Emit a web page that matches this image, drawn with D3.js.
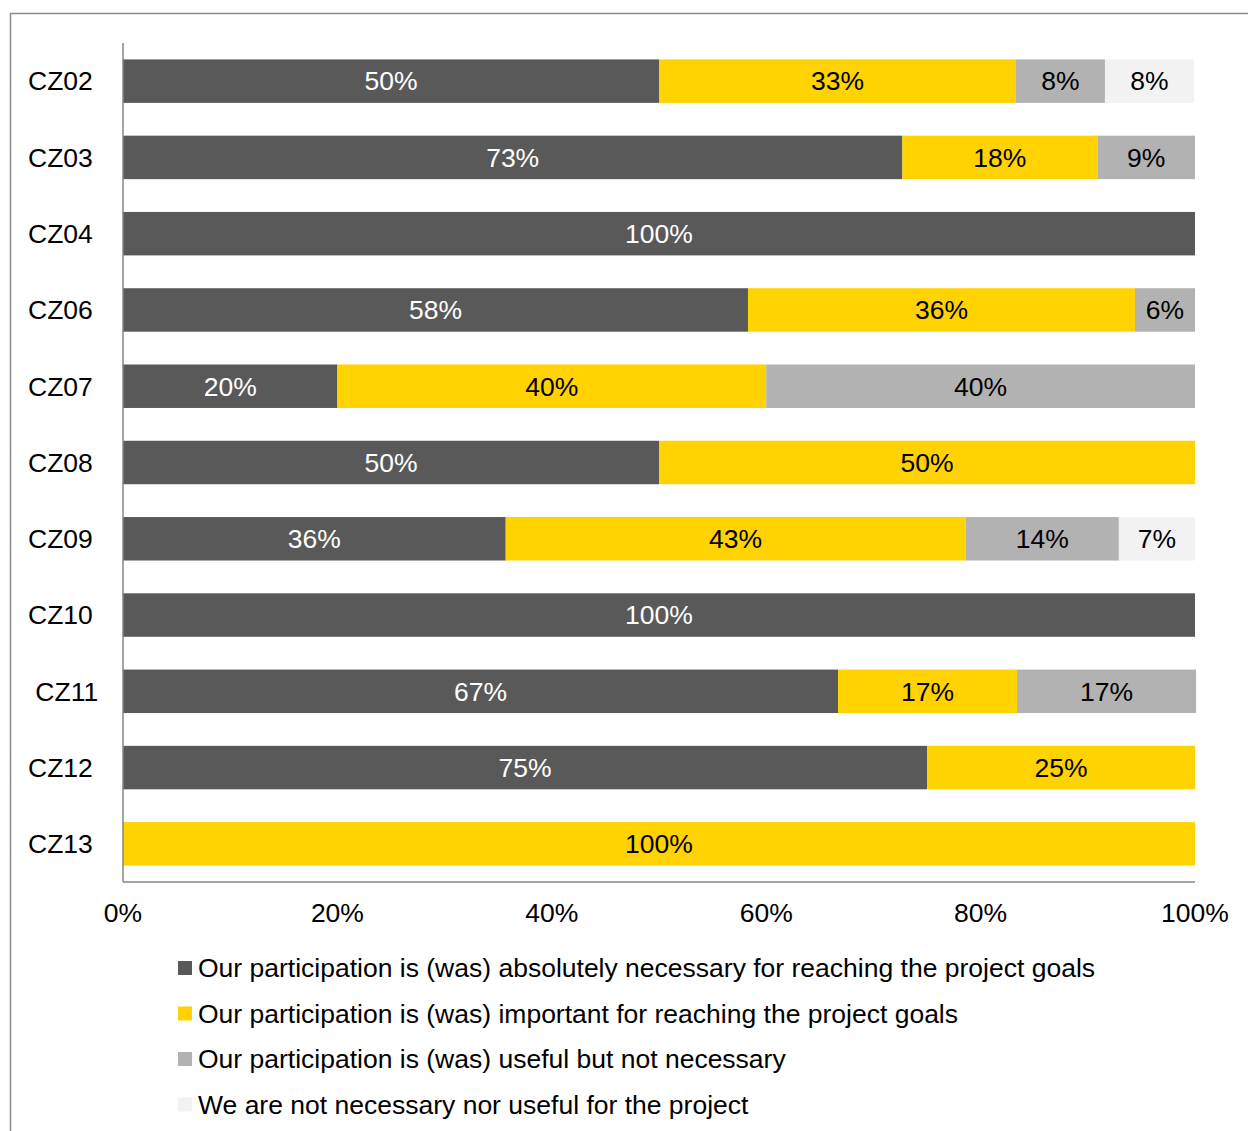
<!DOCTYPE html>
<html>
<head>
<meta charset="utf-8">
<script src="https://cdn.jsdelivr.net/npm/d3@7/dist/d3.min.js"></script>
<style>
  html, body { margin: 0; padding: 0; background: #fff; }
  svg { display: block; font-family: "Liberation Sans", Arial, sans-serif; }
</style>
</head>
<body>
<svg id="chart" width="1248" height="1131"></svg>
<script>
// Regions (category axis, top to bottom)
const categories = ["CZ02", "CZ03", "CZ04", "CZ06", "CZ07", "CZ08", "CZ09", "CZ10", " CZ11", "CZ12", "CZ13"];

// Share of answers per region, in percent
const absolutelyNecessary = [50.0, 72.7, 100, 58.3, 20, 50, 35.7, 100, 66.7, 75, 0];
const important           = [33.3, 18.2, 0,   36.1, 40, 50, 42.9, 0,   16.7, 25, 100];
const usefulNotNecessary  = [8.3,  9.1,  0,   5.6,  40, 0,  14.3, 0,   16.7, 0,  0];
const notNecessaryNorUseful = [8.3, 0,   0,   0,    0,  0,  7.1,  0,   0,    0,  0];

const seriesNames = [
  "Our participation is (was) absolutely necessary for reaching the project goals",
  "Our participation is (was) important for reaching the project goals",
  "Our participation is (was) useful but not necessary",
  "We are not necessary nor useful for the project"
];
const seriesColors = ["#595959", "#FFD200", "#B2B2B2", "#F2F2F2"];
const labelColors  = ["#ffffff", "#000000", "#000000", "#000000"];

const xTicks = [0, 20, 40, 60, 80, 100];

const seriesValues = [absolutelyNecessary, important, usefulNotNecessary, notNecessaryNorUseful];
const rows = categories.map((c, i) => {
  const r = { cat: c };
  seriesValues.forEach((vals, k) => { r["s" + k] = vals[i]; });
  return r;
});
const keys = seriesValues.map((_, k) => "s" + k);
const stacked = d3.stack().keys(keys)(rows);

const svg = d3.select("#chart");
const fontSize = 26.5;

// outer frame
svg.append("rect")
  .attr("x", 10.5).attr("y", 13.5)
  .attr("width", 1260).attr("height", 1140)
  .attr("fill", "none").attr("stroke", "#8a8a8a").attr("stroke-width", 1.5);

const plot = { left: 123, right: 1195, top: 43, bottom: 882 };

const x = d3.scaleLinear().domain([0, 100]).range([plot.left, plot.right]);
const y = d3.scaleBand().domain(categories).range([plot.top, plot.bottom]).paddingInner(0.43).paddingOuter(0.215);

// stacked bars
const layer = svg.append("g").selectAll("g").data(stacked).join("g")
  .attr("fill", (d, k) => seriesColors[k]);

layer.selectAll("rect").data(d => d.filter(p => p[1] - p[0] > 0)).join("rect")
  .attr("x", p => x(p[0]))
  .attr("y", p => y(p.data.cat))
  .attr("width", p => x(p[1]) - x(p[0]))
  .attr("height", y.bandwidth());

// value labels
const fmt = v => d3.format(".0f")(v) + "%";
stacked.forEach((s, k) => {
  svg.append("g").selectAll("text").data(s.filter(p => p[1] - p[0] > 0)).join("text")
    .attr("x", p => (x(p[0]) + x(p[1])) / 2)
    .attr("y", p => y(p.data.cat) + y.bandwidth() / 2)
    .attr("dy", "0.35em")
    .attr("text-anchor", "middle")
    .attr("font-size", fontSize)
    .attr("fill", labelColors[k])
    .text(p => fmt(p[1] - p[0]));
});

// axes lines
svg.append("line")
  .attr("x1", plot.left).attr("x2", plot.left)
  .attr("y1", plot.top).attr("y2", plot.bottom)
  .attr("stroke", "#868686").attr("stroke-width", 1.5);
svg.append("line")
  .attr("x1", plot.left).attr("x2", plot.right)
  .attr("y1", plot.bottom).attr("y2", plot.bottom)
  .attr("stroke", "#868686").attr("stroke-width", 1.5);

// category labels
svg.append("g").selectAll("text").data(categories).join("text")
  .attr("x", 28)
  .attr("y", d => y(d) + y.bandwidth() / 2)
  .attr("dy", "0.35em")
  .attr("font-size", fontSize)
  .attr("fill", "#000")
  .style("white-space", "pre")
  .text(d => d);

// x tick labels
svg.append("g").selectAll("text").data(xTicks).join("text")
  .attr("x", d => x(d))
  .attr("y", 913)
  .attr("dy", "0.35em")
  .attr("text-anchor", "middle")
  .attr("font-size", fontSize)
  .attr("fill", "#000")
  .text(d => d + "%");

// legend
const legend = svg.append("g").selectAll("g").data(seriesNames).join("g")
  .attr("transform", (d, k) => `translate(178, ${968 + k * 45.5})`);
legend.append("rect")
  .attr("x", 0).attr("y", -7).attr("width", 14).attr("height", 14)
  .attr("fill", (d, k) => seriesColors[k]);
legend.append("text")
  .attr("x", 20).attr("dy", "0.35em")
  .attr("font-size", fontSize)
  .attr("fill", "#000")
  .text(d => d);
</script>
</body>
</html>
